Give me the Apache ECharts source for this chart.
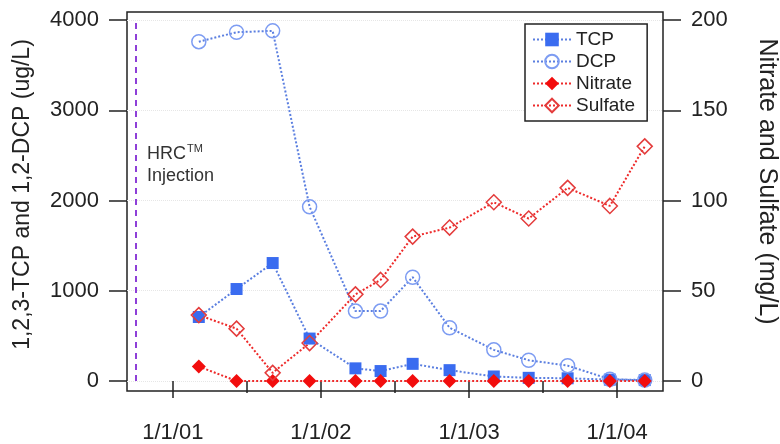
<!DOCTYPE html>
<html>
<head>
<meta charset="utf-8">
<script src="https://cdn.jsdelivr.net/npm/echarts@6/dist/echarts.min.js"></script>
<style>
  html, body { margin: 0; padding: 0; background: #fff; }
  #main { width: 780px; height: 444px; }
</style>
</head>
<body>
<div id="main"></div>
<script>
// sampling dates and results
var sampleDates = ['2001-03-06', '2001-06-07', '2001-09-04', '2001-12-04', '2002-03-27', '2002-05-28',
    '2002-08-15', '2002-11-14', '2003-03-03', '2003-05-28', '2003-09-01', '2003-12-14', '2004-03-09'];
var tcp = [709, 1019, 1307, 470, 140, 110, 190, 120, 50, 35, 30, 15, 10];
var dcp = [3760, 3865, 3880, 1930, 775, 775, 1150, 590, 345, 230, 170, 20, 10];
var nitrate = [8, 0, 0, 0, 0, 0, 0, 0, 0, 0, 0, 0, 0];
var sulfate = [36.5, 29, 4.5, 21, 48, 56, 80, 85, 99, 90, 107, 97, 130];

var yearTicks = ['2001-01-01', '2002-01-01', '2003-01-01', '2004-01-01'];
var halfYearTicks = ['2001-07-01', '2002-07-01', '2003-07-01'];
var leftTicks = [0, 1000, 2000, 3000, 4000];
var rightTicks = [0, 50, 100, 150, 200];
var injectionDate = '2000-10-01';
var xStart = '2000-09-10', xEnd = '2004-04-23';

var FONT = 'Liberation Sans, Arial, sans-serif';
var INK = '#222';

function toTime(s) {
    return +echarts.time.parse(s);
}
function pairs(vals) {
    return sampleDates.map(function (d, i) { return [toTime(d), vals[i]]; });
}
function fmtDate(v) {
    var d = new Date(v);
    return (d.getMonth() + 1) + '/' + d.getDate() + '/' + String(d.getFullYear()).slice(2);
}
function plain(v) {
    return String(v);
}

var myChart = echarts.init(document.getElementById('main'));

var option = {
    animation: false,
    backgroundColor: '#fff',
    textStyle: { fontFamily: FONT },
    grid: {
        left: 127, right: 117, top: 12, bottom: 53,
        containLabel: false,
        outerBoundsMode: 'none',
        show: true, borderColor: INK, borderWidth: 1.5
    },
    legend: {
        data: ['TCP', 'DCP', 'Nitrate', 'Sulfate'],
        orient: 'vertical',
        left: 525, top: 24,
        padding: [6, 12, 6, 7],
        itemGap: 3,
        itemWidth: 38,
        itemHeight: 17,
        backgroundColor: '#fff',
        borderColor: INK,
        borderWidth: 1.5,
        textStyle: { fontSize: 19, color: INK, fontFamily: FONT }
    },
    xAxis: [{
        type: 'value',
        position: 'bottom',
        min: toTime(xStart),
        max: toTime(xEnd),
        axisLine: { show: false },
        axisTick: { show: true, length: 17, lineStyle: { color: INK, width: 1.5 },
            customValues: yearTicks.map(toTime) },
        axisLabel: { fontSize: 22, color: INK, margin: 31, formatter: fmtDate,
            customValues: yearTicks.map(toTime) },
        splitLine: { show: false }
    }, {
        // minor half-year ticks
        type: 'value',
        position: 'bottom',
        min: toTime(xStart),
        max: toTime(xEnd),
        axisLine: { show: false },
        axisTick: { show: true, length: 12, lineStyle: { color: INK, width: 1.5 },
            customValues: halfYearTicks.map(toTime) },
        axisLabel: { show: false },
        splitLine: { show: false }
    }],
    yAxis: [{
        type: 'value',
        position: 'left',
        min: -111, max: 4089,
        name: '1,2,3-TCP and 1,2-DCP (ug/L)',
        nameLocation: 'middle',
        nameRotate: 90,
        nameGap: 93,
        nameTextStyle: { fontSize: 23, color: INK, padding: [0, 0, 0, 14] },
        axisLine: { show: false },
        axisTick: { show: true, length: 18, lineStyle: { color: INK, width: 1.5 }, customValues: leftTicks },
        axisLabel: { fontSize: 22, color: INK, margin: 28, formatter: plain, customValues: leftTicks },
        splitLine: { show: true, lineStyle: { color: '#e6e6e6', type: 'dotted', width: 1 } }
    }, {
        type: 'value',
        position: 'right',
        min: -5.55, max: 204.45,
        name: 'Nitrate and Sulfate (mg/L)',
        nameLocation: 'middle',
        nameRotate: -90,
        nameGap: 91,
        nameTextStyle: { fontSize: 25, color: INK, padding: [0, 40, 0, 0] },
        axisLine: { show: false },
        axisTick: { show: true, length: 18, lineStyle: { color: INK, width: 1.5 }, customValues: rightTicks },
        axisLabel: { fontSize: 22, color: INK, margin: 28, formatter: plain, customValues: rightTicks },
        splitLine: { show: false }
    }],
    series: [{
        name: 'TCP',
        type: 'line',
        yAxisIndex: 0,
        data: pairs(tcp),
        symbol: 'rect',
        symbolSize: 12,
        itemStyle: { color: '#3a6cf0' },
        lineStyle: { color: '#5b7fe0', type: 'dotted', width: 2 },
        markLine: {
            silent: true,
            symbol: 'none',
            label: { show: false },
            lineStyle: { color: '#8e3fd8', type: [6, 5], width: 2 },
            data: [[{ coord: [toTime(injectionDate), 0] }, { coord: [toTime(injectionDate), 4000] }]]
        }
    }, {
        name: 'DCP',
        type: 'line',
        yAxisIndex: 0,
        data: pairs(dcp),
        symbol: 'circle',
        symbolSize: 14,
        itemStyle: { color: 'rgba(255,255,255,0)', borderColor: '#7d9cf2', borderWidth: 1.5 },
        lineStyle: { color: '#5b7fe0', type: 'dotted', width: 2 }
    }, {
        name: 'Nitrate',
        type: 'line',
        yAxisIndex: 1,
        data: pairs(nitrate),
        symbol: 'diamond',
        symbolSize: 14,
        itemStyle: { color: '#f20d0d' },
        lineStyle: { color: '#ee2a2a', type: 'dotted', width: 2 }
    }, {
        name: 'Sulfate',
        type: 'line',
        yAxisIndex: 1,
        data: pairs(sulfate),
        symbol: 'diamond',
        symbolSize: 15,
        itemStyle: { color: 'rgba(255,255,255,0)', borderColor: '#e43c3c', borderWidth: 1.5 },
        lineStyle: { color: '#ee2a2a', type: 'dotted', width: 2 }
    }],
    graphic: [{
        type: 'text',
        left: 147,
        top: 143,
        style: {
            text: 'HRC{sup|TM}\nInjection',
            fill: '#333',
            font: '18px ' + FONT,
            lineHeight: 22,
            rich: {
                sup: { fontSize: 11, fill: '#333', fontFamily: FONT, padding: [0, 0, 10, 1] }
            }
        }
    }]
};

myChart.setOption(option);
</script>
</body>
</html>
